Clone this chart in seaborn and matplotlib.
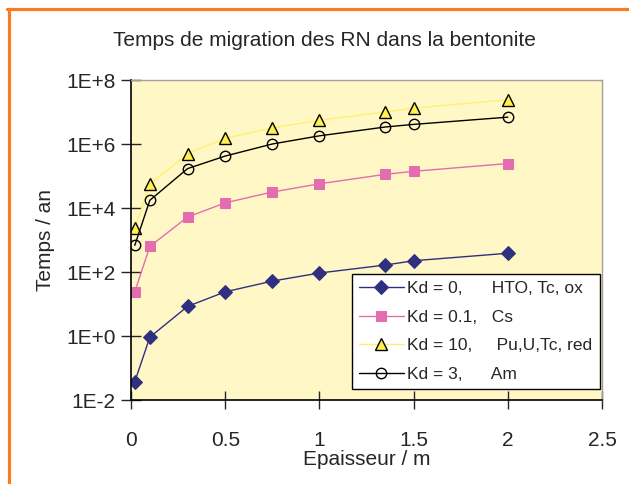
import matplotlib
matplotlib.use("Agg")
import matplotlib.pyplot as plt
import seaborn as sns
import pandas as pd
import numpy as np
from matplotlib.lines import Line2D

# ---- data ----
epaisseur = [0.02, 0.1, 0.3, 0.5, 0.75, 1.0, 1.35, 1.5, 2.0]
kd0 = [0.037, 0.92, 8.4, 24, 52, 93, 165, 225, 385]
kd01 = [24, 630, 5200, 14500, 31600, 57000, 113000, 140000, 245000]
kd10 = [2300, 55000, 500000, 1.5e6, 3.2e6, 5.5e6, 1.0e7, 1.33e7, 2.4e7]
kd3 = [680, 17400, 170000, 420000, 1.0e6, 1.8e6, 3.4e6, 4.1e6, 6.9e6]
labels = ["Kd = 0,      HTO, Tc, ox",
          "Kd = 0.1,   Cs",
          "Kd = 10,     Pu,U,Tc, red",
          "Kd = 3,      Am"]
y_ticks = [1e-2, 1e0, 1e2, 1e4, 1e6, 1e8]
y_ticklabels = ["1E-2", "1E+0", "1E+2", "1E+4", "1E+6", "1E+8"]
x_ticks = [0, 0.5, 1, 1.5, 2, 2.5]
x_ticklabels = ["0", "0.5", "1", "1.5", "2", "2.5"]
title = "Temps de migration des RN dans la bentonite"
xlabel = "Epaisseur / m"
ylabel = "Temps / an"

sns.set_style("white")
plt.rcParams['font.family'] = ['Liberation Sans', 'DejaVu Sans']

fig = plt.figure(figsize=(6.29, 4.84), dpi=100)
W, H = 629, 484
ax = fig.add_axes([131 / W, 1 - 400 / H, (602 - 131) / W, (400 - 80) / H])
ax.set_facecolor("#FFF7C6")

styles = [
    dict(color="#2F3080", marker="D", markersize=7.5, markerfacecolor="#2F3080",
         markeredgecolor="#2F3080"),
    dict(color="#E46DB0", marker="s", markersize=7.5, markerfacecolor="#E46DB0",
         markeredgecolor="#E46DB0"),
    dict(color="#FFF070", marker="^", markersize=8.5, markerfacecolor="#FFF050",
         markeredgecolor="black", markeredgewidth=1.0),
    dict(color="black", marker="o", markersize=7.5, markerfacecolor="none",
         markeredgecolor="black", markeredgewidth=1.0),
]
series = [kd0, kd01, kd10, kd3]
for vals, lab, st in zip(series, labels, styles):
    df = pd.DataFrame({"x": epaisseur, "y": vals})
    sns.lineplot(data=df, x="x", y="y", ax=ax, label=lab, linewidth=1.0, **st)

ax.set_yscale("log")
ax.set_ylim(1e-2, 1e8)
ax.set_xlim(0, 2.5)
ax.set_yticks(y_ticks)
ax.set_yticklabels(y_ticklabels)
ax.set_xticks(x_ticks)
ax.set_xticklabels(x_ticklabels)
ax.minorticks_off()
ax.tick_params(axis="y", direction="inout", length=14, width=1, pad=4, labelsize=15, left=True)
ax.tick_params(axis="x", direction="inout", length=13, width=1, pad=16, labelsize=15, bottom=True)

for s in ["left", "bottom"]:
    ax.spines[s].set_color("black")
    ax.spines[s].set_linewidth(1.2)
for s in ["top", "right"]:
    ax.spines[s].set_color("#A0A0A0")
    ax.spines[s].set_linewidth(1.0)

ax.set_xlabel(xlabel, fontsize=15, labelpad=0)
ax.set_ylabel(ylabel, fontsize=15, labelpad=8)

fig.text(324 / W, 1 - 40 / H, title, fontsize=15, ha="center", va="center")

leg = ax.legend(loc="upper left", bbox_to_anchor=(0.469, 0.394), fontsize=12.5,
                frameon=True, fancybox=False, framealpha=1, edgecolor="black",
                handlelength=2.6, borderaxespad=0, labelspacing=0.78, borderpad=0.4,
                handletextpad=0.2)
leg.get_frame().set_linewidth(1.0)

# orange frame lines (top and left)
fig.add_artist(Line2D([8.5 / W, 8.5 / W], [0, 1 - 8.5 / H], color="#F77B22", linewidth=2.3,
                      transform=fig.transFigure))
fig.add_artist(Line2D([7 / W, 1], [1 - 8.5 / H, 1 - 8.5 / H], color="#F77B22", linewidth=2.3,
                      transform=fig.transFigure))

fig.savefig("out.png", dpi=100)
